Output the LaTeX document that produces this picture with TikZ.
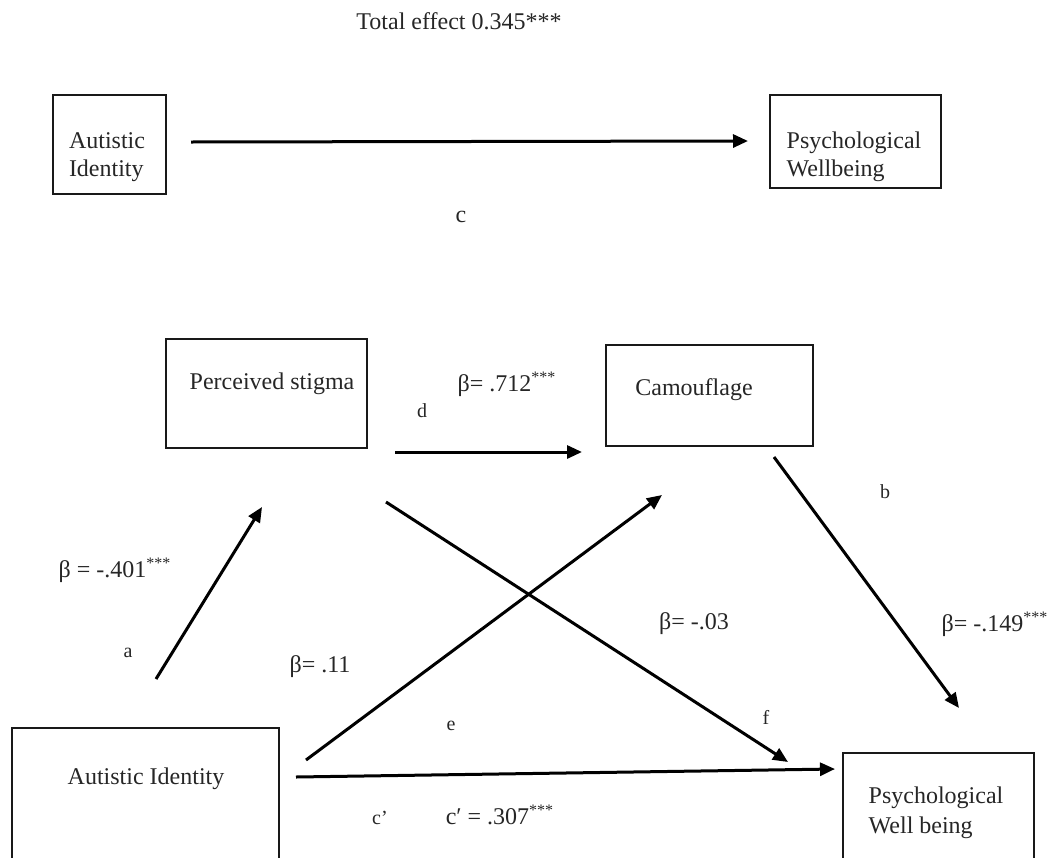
\documentclass[tikz,border=0pt]{standalone}
\usepackage{fontspec}
\setmainfont{Liberation Serif}
\usetikzlibrary{arrows.meta,fit}
\begin{document}
\begin{tikzpicture}[x=0.5pt,y=-0.5pt,
  box/.style={draw=black!90, line width=1.2pt, inner sep=0pt, rectangle},
  lbl/.style={anchor=mid, inner sep=0pt, font=\fontsize{12}{14}\selectfont, text=black!85},
  twoline/.style={anchor=center, inner sep=0pt, align=left, text=black!85},
  small/.style={anchor=mid, inner sep=0pt, font=\fontsize{10}{12}\selectfont, text=black!85},
  arr/.style={line width=1.5pt, draw=black, -{Triangle[length=7.5pt,width=6.5pt]}}]
\useasboundingbox (0,0) rectangle (1055,857);
\clip (0,0) rectangle (1055,857);

% ---------- top: total effect ----------
\node[lbl] (tot) at (459,25) {Total effect 0.345***};
\node[box, fit={(53,95) (166,194)}] (ai1) {};
\node[box, fit={(770,95) (941,188)}] (pw1) {};
\node[twoline, font=\fontsize{12}{14}\selectfont] (ai1t) at (107,157) {Autistic\\Identity};
\node[twoline, font=\fontsize{12}{14}\selectfont] (pw1t) at (854,157) {Psychological\\Wellbeing};
\coordinate (cS) at (191,142);
\coordinate (cE) at (748,141);
\draw[arr] (cS) -- (cE);
\node[lbl] (clab) at (461,218) {c};

% ---------- mediation model ----------
\node[box, fit={(166,339) (367,448)}] (ps) {};
\node[lbl] (pst) at (272,385) {Perceived stigma};
\node[box, fit={(606,345) (813,446)}] (cam) {};
\node[lbl] (camt) at (694,391) {Camouflage};
\node[box, fit={(12,728) (279,880)}] (ai2) {};
\node[lbl] (ai2t) at (146,780) {Autistic Identity};
\node[box, fit={(843,753) (1034,880)}] (pw2) {};
\node[twoline, font=\fontsize{12}{15}\selectfont] (pw2t) at (936,813) {Psychological\\Well being};

% arrow end points
\coordinate (dS) at (395,452);  \coordinate (dE) at (582,452);
\coordinate (aS) at (156,679);  \coordinate (aE) at (262,507);
\coordinate (fS) at (386,502);  \coordinate (fE) at (788,762);
\coordinate (eS) at (306,760);  \coordinate (eE) at (662,495);
\coordinate (bS) at (774,457);  \coordinate (bE) at (959,708);
\coordinate (cpS) at (296,777); \coordinate (cpE) at (835,769);

\draw[arr] (dS) -- (dE);
\draw[arr] (aS) -- (aE);
\draw[arr] (fS) -- (fE);
\draw[arr] (eS) -- (eE);
\draw[arr] (bS) -- (bE);
\draw[arr] (cpS) -- (cpE);

% labels
\node[lbl] (bd) at (507,387) {β= .712\textsuperscript{***}};
\node[small] (ld) at (422,413) {d};
\node[lbl] (ba) at (115,573) {β = -.401\textsuperscript{***}};
\node[small] (la) at (128,653) {a};
\node[lbl] (be) at (320,668) {β= .11};
\node[small] (le) at (451,726) {e};
\node[lbl] (bf) at (694,625) {β= -.03};
\node[small] (lf) at (766,720) {f};
\node[small] (lb) at (885,494) {b};
\node[lbl] (bb) at (995,627) {β= -.149\textsuperscript{***}};
\node[small] (lcp) at (380,820) {c’};
\node[lbl] (bcp) at (500,820) {c′ = .307\textsuperscript{***}};
\end{tikzpicture}
\end{document}
